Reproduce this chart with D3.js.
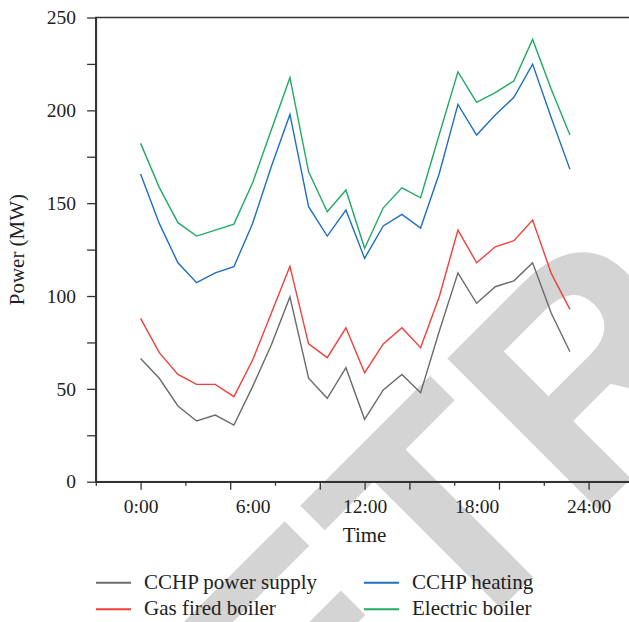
<!DOCTYPE html>
<html>
<head>
<meta charset="utf-8">
<script src="https://cdn.jsdelivr.net/npm/d3@7"></script>
<style>
  body { margin: 0; background: #fff; }
  svg { display: block; }
  text { font-family: "Liberation Serif", "Times New Roman", serif; fill: #222; }
</style>
</head>
<body>
<svg id="chart" width="629" height="622"></svg>
<script>
// hourly values (MW)
var hours = [0,1,2,3,4,5,6,7,8,9,10,11,12,13,14,15,16,17,18,19,20,21,22,23];
var cchpPower = [66.4,55.7,40.8,32.7,35.9,30.5,51.2,73.6,99.5,55.7,44.9,61.4,33.6,49.4,57.8,47.9,81,112.5,96.1,105,108.2,117.9,90.7,70];
var gasBoiler = [88,69.5,57.8,52.4,52.4,45.8,65.5,90.7,116,74.2,66.8,82.9,58.7,74.2,82.9,72.2,99.6,135.5,117.9,126.5,129.8,140.9,112.2,92.8];
var cchpHeating = [165.7,139.1,117.9,107.2,112.5,115.8,139.1,169.6,197.8,148.1,132.3,146.3,120.3,137.7,144,136.6,166,203.2,186.7,197.5,207,224.9,196,168.2];
var electricBoiler = [182.2,158.5,139.5,132.3,135.5,138.7,161,189.4,217.6,166.9,145.4,157.1,125.7,147.5,158.3,152.9,187,220.7,204.3,209.5,215.9,238.2,211.3,186.7];

var seriesNames = ["CCHP power supply", "Gas fired boiler", "CCHP heating", "Electric boiler"];
var seriesColors = ["#6b6b6b", "#f0403a", "#1f6fc0", "#20aa66"];

var xLabelHours = [0, 6, 12, 18, 24];
var xLabels = ["0:00", "6:00", "12:00", "18:00", "24:00"];
var xLongTicks = [0, 4.8, 9.6, 12, 14.4, 19.2, 24];
var xShortTicks = [-2.4, 2.4, 7.2, 16.8, 21.6];
var yTicks = [0, 50, 100, 150, 200, 250];
var yMinorTicks = [25, 75, 125, 175, 225];

var svg = d3.select("#chart");
var margin = {top: 17.5, left: 95.8},
    plotRight = 633.4, plotBottom = 481.7;

// watermark behind everything, one glyph at a time along a 45deg baseline
var wmWord = "RETRACTED".split("");
var wmAdvance = [0.722, 0.667, 0.611, 0.722, 0.722, 0.722, 0.611, 0.667, 0.722];
var wmSize = 312, c45 = Math.SQRT1_2;
var tOrigin = [449.5, 659.9];   // origin of the first T
var startAlong = -(wmAdvance[0] + wmAdvance[1]) * wmSize;
var along = startAlong;
var wm = svg.append("g").attr("class", "watermark");
wmWord.forEach(function(ch, i) {
  var px = tOrigin[0] + along * c45,
      py = tOrigin[1] - along * c45;
  wm.append("text")
    .attr("transform", "translate(" + px + "," + py + ") rotate(-45)")
    .style("font-family", "'Liberation Sans', Arial, sans-serif")
    .style("font-weight", "bold")
    .style("font-size", wmSize + "px")
    .style("fill", "#d4d4d4")
    .text(ch);
  along += wmAdvance[i] * wmSize;
});

var x = d3.scaleLinear().domain([-2.4, 26.4]).range([margin.left, plotRight]);
var y = d3.scaleLinear().domain([0, 250]).range([plotBottom, margin.top]);

var axisColor = "#333";

// frame (right side falls outside the window)
svg.append("rect")
  .attr("x", margin.left).attr("y", margin.top)
  .attr("width", plotRight - margin.left).attr("height", plotBottom - margin.top)
  .attr("fill", "none").attr("stroke", axisColor).attr("stroke-width", 1.5);

// y axis
svg.append("g")
  .attr("class", "axis")
  .attr("transform", "translate(" + margin.left + ",0)")
  .call(d3.axisLeft(y).tickValues(yTicks).tickSize(8.7).tickPadding(11).tickSizeOuter(0));
svg.append("g")
  .attr("class", "axis")
  .attr("transform", "translate(" + margin.left + ",0)")
  .call(d3.axisLeft(y).tickValues(yMinorTicks).tickSize(8.7).tickFormat("").tickSizeOuter(0));

// x axis: tick marks and labels drawn separately like the original
svg.append("g")
  .attr("class", "axis")
  .attr("transform", "translate(0," + plotBottom + ")")
  .call(d3.axisBottom(x).tickValues(xLongTicks).tickSize(8).tickFormat("").tickSizeOuter(0));
svg.append("g")
  .attr("class", "axis")
  .attr("transform", "translate(0," + plotBottom + ")")
  .call(d3.axisBottom(x).tickValues(xShortTicks).tickSize(4).tickFormat("").tickSizeOuter(0));
svg.append("g")
  .attr("class", "axis")
  .attr("transform", "translate(0," + plotBottom + ")")
  .call(d3.axisBottom(x).tickValues(xLabelHours).tickSize(0).tickPadding(17.5)
    .tickFormat(function(d, i) { return xLabels[i]; }).tickSizeOuter(0));

svg.selectAll(".axis")
  .attr("font-family", "Liberation Serif")
  .attr("font-size", 19.5);
svg.selectAll(".domain").attr("stroke", axisColor).attr("stroke-width", 1.5);
svg.selectAll(".tick line").attr("stroke", axisColor).attr("stroke-width", 1.3);
svg.selectAll(".tick text")
  .style("font-family", "'Liberation Serif', serif")
  .style("font-size", "19.5px")
  .attr("fill", "#222");

// axis titles
svg.append("text")
  .attr("x", x(12)).attr("y", 541.5)
  .attr("text-anchor", "middle")
  .style("font-size", "21px")
  .text("Time");
svg.append("text")
  .attr("transform", "translate(24," + ((margin.top + plotBottom) / 2) + ") rotate(-90)")
  .attr("text-anchor", "middle")
  .style("font-size", "21px")
  .text("Power (MW)");

// lines
var allSeries = [cchpPower, gasBoiler, cchpHeating, electricBoiler];
var line = d3.line()
  .x(function(d, i) { return x(hours[i]); })
  .y(function(d) { return y(d); });

svg.selectAll(".series")
  .data(allSeries)
  .enter().append("path")
  .attr("class", "series")
  .attr("d", line)
  .attr("fill", "none")
  .attr("stroke", function(d, i) { return seriesColors[i]; })
  .attr("stroke-width", 1.4);

// legend, two columns
var legendCols = [96, 364];
var legendRows = [582.7, 609.3];
var legend = svg.selectAll(".legend")
  .data(seriesNames)
  .enter().append("g")
  .attr("class", "legend")
  .attr("transform", function(d, i) {
    return "translate(" + legendCols[Math.floor(i / 2)] + "," + legendRows[i % 2] + ")";
  });
legend.append("line")
  .attr("x1", 0).attr("x2", 35)
  .attr("stroke", function(d, i) { return seriesColors[i]; })
  .attr("stroke-width", 2);
legend.append("text")
  .attr("x", 48).attr("y", 5.8)
  .style("font-size", "21px")
  .text(function(d) { return d; });
</script>
</body>
</html>
